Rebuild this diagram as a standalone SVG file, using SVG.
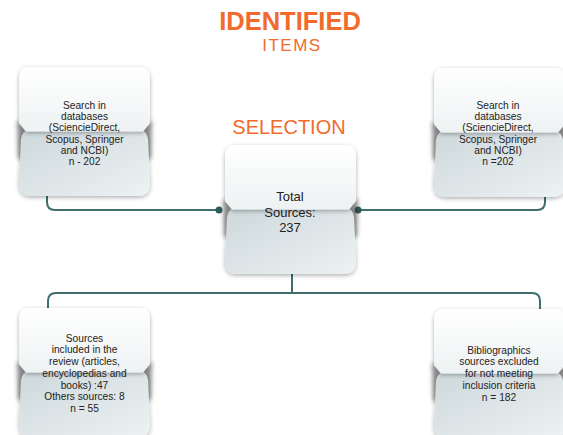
<svg xmlns="http://www.w3.org/2000/svg" xmlns:xlink="http://www.w3.org/1999/xlink" width="563" height="435" viewBox="0 0 563 435">
  <style>
    .t{font-family:"Liberation Sans",Arial,sans-serif;font-size:10.2px;fill:#222;text-anchor:middle}
    .big{font-size:13px}
    .h{font-family:"Liberation Sans",Arial,sans-serif;fill:#f26a2c;text-anchor:middle}
    .wire{fill:none;stroke:#3f6e6f;stroke-width:2}
    .dot{fill:#2f5a5b}
  </style>
  <defs>
    <filter id="soft" x="-50%" y="-50%" width="200%" height="200%">
      <feGaussianBlur stdDeviation="2.2"/>
    </filter>
    <filter id="drop" x="-20%" y="-20%" width="140%" height="140%">
      <feDropShadow dx="0" dy="1.5" stdDeviation="2.2" flood-color="#000" flood-opacity="0.32"/>
    </filter>
    <linearGradient id="gTop" x1="0" y1="0" x2="0" y2="1">
      <stop offset="0" stop-color="#ffffff"/>
      <stop offset="1" stop-color="#eef2f3"/>
    </linearGradient>
    <linearGradient id="gBot" x1="0" y1="0" x2="1" y2="1">
      <stop offset="0" stop-color="#cdd8db"/>
      <stop offset="1" stop-color="#edf2f4"/>
    </linearGradient>
    <!-- folded card: white upper flap, grey lower flap, notched at the fold -->
    <g id="card">
      <path d="M -2,53 L 9,64 L 4,92 L -1,92 Z" fill="#333" opacity="0.55" filter="url(#soft)"/>
      <path d="M 133,53 L 122,64 L 127,92 L 132,92 Z" fill="#333" opacity="0.55" filter="url(#soft)"/>
      <path d="M 7,64 H 124 Q 128,66 129,72 L 131,117 Q 131,129 119,129 H 12 Q 0,129 0,117 L 2,72 Q 3,66 7,64 Z" fill="url(#gBot)" filter="url(#drop)"/>
      <path d="M 0,11 Q 0,0 11,0 H 120 Q 131,0 131,11 V 56 L 124,64.5 H 7 L 0,56 Z" fill="url(#gTop)" filter="url(#drop)"/>
    </g>
  </defs>

  <rect width="563" height="435" fill="#ffffff"/>

  <!-- headings -->
  <text class="h" x="290" y="30" font-weight="bold" font-size="25.5">IDENTIFIED</text>
  <text class="h" x="292" y="51" font-size="17" letter-spacing="1.5">ITEMS</text>
  <text class="h" x="289" y="134" font-size="20">SELECTION</text>

  <!-- connectors -->
  <g id="connectors">
    <path class="wire" d="M 47,196 V 202 Q 47,210 55,210 H 219"/>
    <path class="wire" d="M 545,196 V 202 Q 545,210 537,210 H 358"/>
    <path class="wire" d="M 292,273 V 293"/>
    <path class="wire" d="M 48,308 V 301 Q 48,293 56,293 H 532 Q 540,293 540,301 V 309"/>
    <circle class="dot" cx="219" cy="210" r="3.5"/>
    <circle class="dot" cx="358" cy="210" r="3.5"/>
  </g>

  <g id="search-left">
    <use xlink:href="#card" x="19" y="67"/>
    <text class="t" x="84.5" y="108.5">Search in</text>
    <text class="t" x="84.5" y="119.8">databases</text>
    <text class="t" x="84.5" y="131.1">(SciencieDirect,</text>
    <text class="t" x="84.5" y="142.5">Scopus, Springer</text>
    <text class="t" x="84.5" y="153.8">and NCBI)</text>
    <text class="t" x="84.5" y="165.1">n - 202</text>
  </g>

  <g id="search-right">
    <use xlink:href="#card" x="434" y="68"/>
    <text class="t" x="498" y="108.5">Search in</text>
    <text class="t" x="498" y="119.8">databases</text>
    <text class="t" x="498" y="131.1">(SciencieDirect,</text>
    <text class="t" x="498" y="142.5">Scopus, Springer</text>
    <text class="t" x="498" y="153.8">and NCBI)</text>
    <text class="t" x="498" y="165.1">n =202</text>
  </g>

  <g id="total">
    <use xlink:href="#card" x="225" y="145"/>
    <text class="t big" x="290" y="200.5">Total</text>
    <text class="t big" x="290" y="216.5">Sources:</text>
    <text class="t big" x="290" y="232">237</text>
  </g>

  <g id="included">
    <use xlink:href="#card" x="19" y="308"/>
    <text class="t" x="84.5" y="341.5">Sources</text>
    <text class="t" x="84.5" y="353.3">included in the</text>
    <text class="t" x="84.5" y="365">review (articles,</text>
    <text class="t" x="84.5" y="376.8">encyclopedias and</text>
    <text class="t" x="84.5" y="388.6">books) :47</text>
    <text class="t" x="84.5" y="400.4">Others sources: 8</text>
    <text class="t" x="84.5" y="412.2">n = 55</text>
  </g>

  <g id="excluded">
    <use xlink:href="#card" x="434" y="309"/>
    <text class="t" x="499" y="353.5">Bibliographics</text>
    <text class="t" x="499" y="365">sources excluded</text>
    <text class="t" x="499" y="377">for not meeting</text>
    <text class="t" x="499" y="389">inclusion criteria</text>
    <text class="t" x="499" y="400.5">n = 182</text>
  </g>
</svg>
